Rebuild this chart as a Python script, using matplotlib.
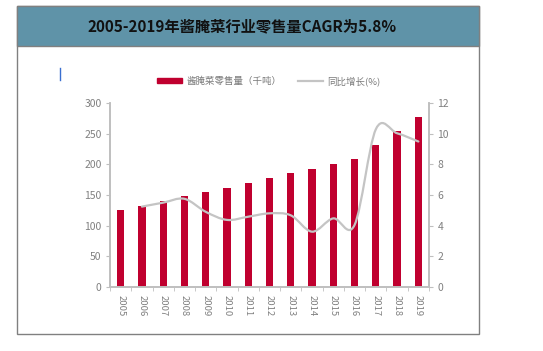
import matplotlib
matplotlib.use("Agg")
import matplotlib.pyplot as plt
from matplotlib.path import Path
from matplotlib.patches import PathPatch, Rectangle
from matplotlib.lines import Line2D
import numpy as np

plt.rcParams["font.family"] = ["Noto Sans CJK SC", "DejaVu Sans"]

years = [str(y) for y in range(2005, 2020)]
retail_kt = [126, 132, 140, 148, 155, 162, 169, 178, 186, 193, 201, 209, 231, 255, 278]
growth_years = years[1:]
growth_pct = [5.24, 5.5, 5.75, 4.9, 4.37, 4.58, 4.8, 4.67, 3.6, 4.47, 4.04, 10.3, 10.04, 9.5]

title = "2005-2019年酱腌菜行业零售量CAGR为5.8%"
bar_label = "酱腌菜零售量（千吨）"
line_label = "同比增长(%)"

BAR_COLOR = "#c0002f"
LINE_COLOR = "#c4c4c4"
AXIS_COLOR = "#bfbfbf"
TICK_TEXT = "#808080"

W, H = 543, 351
fig = plt.figure(figsize=(W / 100, H / 100), dpi=100)

# outer frame and title band, kept behind the axes
fig.add_artist(Rectangle((17 / W, 1 - 334 / H), 462 / W, 328 / H, transform=fig.transFigure,
                         facecolor="white", edgecolor="#808080", lw=1.0, zorder=-10))
fig.add_artist(Rectangle((17 / W, 1 - 46 / H), 462 / W, 40 / H, transform=fig.transFigure,
                         facecolor="#5f93a8", edgecolor="#808080", lw=1.0, zorder=-9))
fig.text(242 / W, 1 - 26 / H, title, ha="center", va="center", fontsize=11,
         fontweight="bold", color="#111111")
fig.add_artist(Line2D([60 / W, 60 / W], [1 - 68 / H, 1 - 80 / H], transform=fig.transFigure,
                      color="#3a6fd0", lw=1.0))

ax = fig.add_axes([110 / W, 1 - 286.7 / H, 319 / W, 183.4 / H])
ax2 = ax.twinx()
ax.patch.set_alpha(0)
ax2.patch.set_alpha(0)

x = np.arange(len(years))
ax.bar(x, retail_kt, width=0.34, color=BAR_COLOR, zorder=2)
ax.set_xlim(-0.5, len(years) - 0.5)
ax.set_ylim(0, 300)
ax.set_yticks(range(0, 301, 50))
ax.set_xticks(x)
ax.set_xticklabels(years, rotation=-90)
ax.set_xticks(np.arange(-0.5, len(years), 1.0), minor=True)
ax.tick_params(axis="x", which="major", length=0, pad=6, labelsize=6.8, labelcolor=TICK_TEXT)
ax.tick_params(axis="x", which="minor", length=3, color=AXIS_COLOR, direction="out")
ax.tick_params(axis="y", length=3, color=AXIS_COLOR, labelsize=7.5, labelcolor=TICK_TEXT, pad=3)

ax2.set_ylim(0, 12)
ax2.set_yticks(range(0, 13, 2))
ax2.tick_params(axis="y", length=3, color=AXIS_COLOR, labelsize=7.5, labelcolor=TICK_TEXT, pad=3)

for a in (ax, ax2):
    a.spines["top"].set_visible(False)
    for side in ("left", "right", "bottom"):
        a.spines[side].set_color(AXIS_COLOR)
        a.spines[side].set_linewidth(1.2)

# smoothed growth line (Catmull-Rom style bezier through the points)
gx = np.arange(1, len(years), dtype=float)
gy = np.asarray(growth_pct, dtype=float)
pts = np.column_stack([gx, gy])
verts = [pts[0]]
codes = [Path.MOVETO]
for i in range(len(pts) - 1):
    p0 = pts[i - 1] if i > 0 else pts[i]
    p1, p2 = pts[i], pts[i + 1]
    p3 = pts[i + 2] if i + 2 < len(pts) else pts[i + 1]
    c1 = p1 + (p2 - p0) / 6.0
    c2 = p2 - (p3 - p1) / 6.0
    verts += [c1, c2, p2]
    codes += [Path.CURVE4] * 3
ax2.add_patch(PathPatch(Path(verts, codes), facecolor="none", edgecolor=LINE_COLOR,
                        lw=1.6, zorder=3, capstyle="round"))

handles = [Rectangle((0, 0), 1, 1, color=BAR_COLOR),
           Line2D([], [], color=LINE_COLOR, lw=1.6)]
leg = fig.legend(handles, [bar_label, line_label], loc="center", ncol=2,
                 bbox_to_anchor=(269 / W, 1 - 81 / H), frameon=False, fontsize=6.8,
                 handlelength=2.6, handleheight=0.5, columnspacing=1.8, handletextpad=0.5)
for t in leg.get_texts():
    t.set_color("#7a7a7a")

fig.savefig("out.png", dpi=100)
